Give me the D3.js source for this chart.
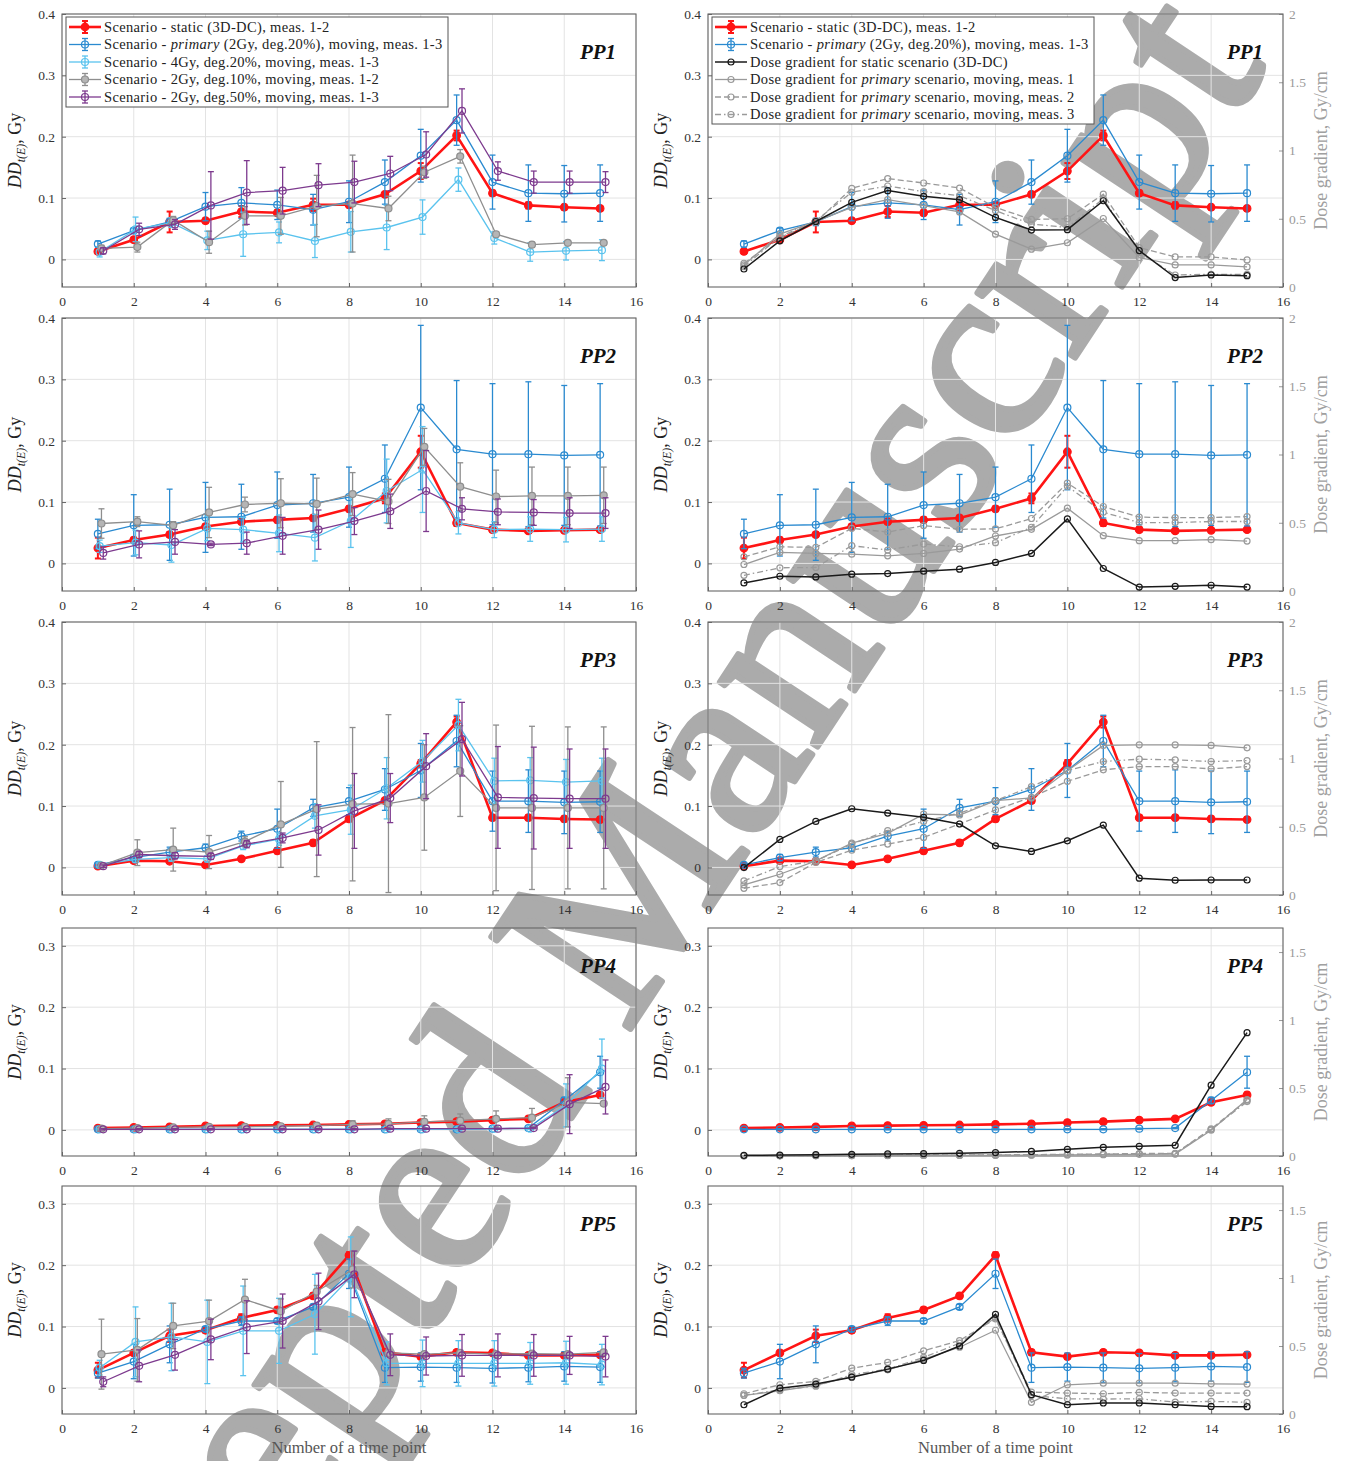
<!DOCTYPE html>
<html><head><meta charset="utf-8">
<script src="https://cdn.jsdelivr.net/npm/d3@7"></script>
<style>body{margin:0;background:#fff} svg text{font-family:"Liberation Serif","DejaVu Serif",serif}</style>
</head><body><svg id="chart" width="1346" height="1461"></svg>
<script>
// ---------------- DATA ----------------
const timePoints = [1,2,3,4,5,6,7,8,9,10,11,12,13,14,15];
const xTicks = [0,2,4,6,8,10,12,14,16];
const yTicksTall = [0,0.1,0.2,0.3,0.4];
const yTicksShort = [0,0.1,0.2,0.3];
const gradTicksTall = [0,0.5,1,1.5,2];
const gradTicksShort = [0,0.5,1,1.5];
const panelNames = ["PP1","PP2","PP3","PP4","PP5"];

const legendLeft = [
  ["Scenario - static (3D-DC), meas. 1-2"],
  ["Scenario - ","primary"," (2Gy, deg.20%), moving, meas. 1-3"],
  ["Scenario - 4Gy, deg.20%, moving, meas. 1-3"],
  ["Scenario - 2Gy, deg.10%, moving, meas. 1-2"],
  ["Scenario - 2Gy, deg.50%, moving, meas. 1-3"]
];
const legendRight = [
  ["Scenario - static (3D-DC), meas. 1-2"],
  ["Scenario - ","primary"," (2Gy, deg.20%), moving, meas. 1-3"],
  ["Dose gradient for static scenario (3D-DC)"],
  ["Dose gradient for ","primary"," scenario, moving, meas. 1"],
  ["Dose gradient for ","primary"," scenario, moving, meas. 2"],
  ["Dose gradient for ","primary"," scenario, moving, meas. 3"]
];

// PP1
const PP1_static      = [0.013,0.032,0.061,0.063,0.078,0.076,0.089,0.089,0.106,0.144,0.202,0.108,0.088,0.085,0.083];
const PP1_static_err  = [0.004,0.004,0.017,0.004,0.009,0.004,0.010,0.004,0.004,0.013,0.008,0.004,0.005,0.004,0.004];
const PP1_primary     = [0.025,0.047,0.061,0.086,0.092,0.089,0.081,0.094,0.126,0.169,0.227,0.126,0.108,0.107,0.108];
const PP1_primary_err = [0.005,0.004,0.006,0.023,0.025,0.024,0.025,0.034,0.036,0.043,0.041,0.044,0.046,0.046,0.046];
const PP1_4Gy         = [0.012,0.049,0.060,0.031,0.041,0.044,0.030,0.045,0.052,0.069,0.130,0.035,0.012,0.014,0.015];
const PP1_4Gy_err     = [0.008,0.020,0.008,0.015,0.036,0.017,0.027,0.033,0.036,0.028,0.019,0.010,0.015,0.015,0.017];
const PP1_deg10       = [0.018,0.020,0.064,0.028,0.071,0.071,0.087,0.091,0.083,0.142,0.168,0.041,0.024,0.027,0.027];
const PP1_deg10_err   = [0.005,0.008,0.006,0.018,0.015,0.030,0.050,0.079,0.020,0.010,0.011,0.004,0.004,0.003,0.003];
const PP1_deg50       = [0.014,0.049,0.057,0.088,0.109,0.112,0.121,0.126,0.140,0.171,0.242,0.144,0.126,0.126,0.126];
const PP1_deg50_err   = [0.005,0.010,0.008,0.055,0.052,0.038,0.035,0.034,0.028,0.037,0.036,0.015,0.018,0.018,0.017];
const PP1_grad_static = [0.132,0.338,0.480,0.620,0.706,0.664,0.640,0.510,0.417,0.420,0.632,0.267,0.069,0.088,0.083];
const PP1_grad_m1     = [0.162,0.387,0.480,0.583,0.640,0.596,0.550,0.387,0.277,0.324,0.502,0.216,0.162,0.162,0.147];
const PP1_grad_m2     = [0.174,0.363,0.475,0.723,0.794,0.762,0.725,0.583,0.495,0.500,0.680,0.289,0.220,0.220,0.198];
const PP1_grad_m3     = [0.150,0.368,0.485,0.694,0.740,0.699,0.669,0.559,0.461,0.436,0.647,0.252,0.088,0.093,0.093];

// PP2
const PP2_static      = [0.025,0.038,0.047,0.060,0.068,0.071,0.074,0.089,0.106,0.182,0.066,0.055,0.053,0.054,0.055];
const PP2_static_err  = [0.017,0.004,0.004,0.004,0.004,0.004,0.004,0.004,0.008,0.026,0.005,0.004,0.003,0.003,0.003];
const PP2_primary     = [0.048,0.062,0.063,0.075,0.076,0.095,0.098,0.108,0.138,0.254,0.186,0.178,0.178,0.176,0.177];
const PP2_primary_err = [0.024,0.050,0.058,0.057,0.053,0.054,0.047,0.049,0.055,0.134,0.112,0.115,0.118,0.114,0.116];
const PP2_4Gy         = [0.028,0.034,0.030,0.057,0.055,0.049,0.042,0.069,0.118,0.153,0.066,0.055,0.056,0.055,0.056];
const PP2_4Gy_err     = [0.010,0.020,0.028,0.020,0.020,0.030,0.038,0.043,0.052,0.070,0.018,0.013,0.020,0.020,0.020];
const PP2_deg10       = [0.065,0.068,0.062,0.083,0.096,0.098,0.097,0.113,0.101,0.190,0.125,0.109,0.110,0.110,0.111];
const PP2_deg10_err   = [0.024,0.008,0.006,0.041,0.012,0.040,0.042,0.035,0.036,0.030,0.039,0.043,0.047,0.047,0.046];
const PP2_deg50       = [0.017,0.031,0.035,0.031,0.033,0.045,0.055,0.069,0.085,0.118,0.089,0.084,0.083,0.082,0.082];
const PP2_deg50_err   = [0.010,0.022,0.020,0.002,0.018,0.030,0.032,0.022,0.028,0.066,0.018,0.021,0.021,0.025,0.025];
const PP2_grad_static = [0.059,0.108,0.103,0.123,0.128,0.145,0.160,0.209,0.275,0.528,0.165,0.029,0.034,0.042,0.029];
const PP2_grad_m1     = [0.194,0.283,0.275,0.270,0.258,0.275,0.307,0.403,0.452,0.607,0.405,0.369,0.369,0.376,0.366];
const PP2_grad_m2     = [0.250,0.324,0.319,0.459,0.432,0.479,0.452,0.455,0.531,0.791,0.619,0.541,0.538,0.538,0.545];
const PP2_grad_m3     = [0.115,0.170,0.172,0.332,0.300,0.344,0.324,0.354,0.467,0.767,0.577,0.501,0.501,0.509,0.509];

// PP3
const PP3_static      = [0.002,0.011,0.010,0.004,0.014,0.027,0.040,0.079,0.109,0.169,0.237,0.081,0.081,0.079,0.078];
const PP3_static_err  = [0.002,0.003,0.003,0.003,0.003,0.004,0.004,0.004,0.004,0.006,0.009,0.004,0.004,0.004,0.004];
const PP3_primary     = [0.004,0.016,0.025,0.032,0.051,0.063,0.097,0.108,0.127,0.158,0.206,0.108,0.108,0.106,0.107];
const PP3_primary_err = [0.003,0.005,0.008,0.006,0.008,0.032,0.014,0.022,0.034,0.044,0.042,0.049,0.051,0.051,0.050];
const PP3_4Gy         = [0.004,0.013,0.016,0.014,0.035,0.046,0.084,0.094,0.129,0.173,0.232,0.141,0.142,0.139,0.141];
const PP3_4Gy_err     = [0.003,0.005,0.006,0.005,0.006,0.010,0.020,0.040,0.050,0.034,0.042,0.037,0.037,0.037,0.037];
const PP3_deg10       = [0.003,0.024,0.029,0.025,0.042,0.070,0.095,0.103,0.104,0.114,0.157,0.097,0.097,0.097,0.097];
const PP3_deg10_err   = [0.003,0.021,0.035,0.027,0.008,0.070,0.110,0.125,0.145,0.086,0.074,0.135,0.133,0.132,0.132];
const PP3_deg50       = [0.002,0.021,0.019,0.018,0.038,0.048,0.061,0.092,0.113,0.165,0.209,0.114,0.113,0.112,0.112];
const PP3_deg50_err   = [0.002,0.005,0.005,0.005,0.006,0.008,0.041,0.061,0.040,0.053,0.060,0.083,0.083,0.081,0.081];
const PP3_grad_static = [0.201,0.407,0.539,0.632,0.600,0.569,0.520,0.360,0.319,0.397,0.512,0.123,0.108,0.110,0.110];
const PP3_grad_m1     = [0.074,0.152,0.250,0.380,0.451,0.593,0.586,0.691,0.711,0.910,1.096,1.100,1.100,1.096,1.078];
const PP3_grad_m2     = [0.049,0.091,0.238,0.328,0.373,0.422,0.520,0.623,0.716,0.833,0.917,0.941,0.941,0.924,0.941];
const PP3_grad_m3     = [0.103,0.208,0.250,0.373,0.471,0.539,0.600,0.691,0.794,0.912,0.978,0.995,0.990,0.978,0.985];

// PP4
const PP4_static      = [0.003,0.004,0.005,0.0065,0.007,0.0075,0.008,0.009,0.010,0.012,0.0135,0.016,0.018,0.045,0.057];
const PP4_static_err  = [0.002,0.002,0.002,0.002,0.002,0.002,0.002,0.002,0.002,0.003,0.003,0.003,0.003,0.004,0.004];
const PP4_primary     = [0.001,0.001,0.001,0.001,0.001,0.001,0.001,0.001,0.001,0.001,0.001,0.002,0.003,0.048,0.094];
const PP4_primary_err = [0.001,0.001,0.001,0.001,0.001,0.001,0.001,0.001,0.001,0.001,0.001,0.001,0.001,0.005,0.026];
const PP4_4Gy         = [0.001,0.001,0.001,0.001,0.001,0.001,0.001,0.001,0.001,0.001,0.001,0.002,0.002,0.040,0.100];
const PP4_4Gy_err     = [0.001,0.001,0.001,0.001,0.001,0.001,0.001,0.001,0.001,0.001,0.001,0.001,0.001,0.035,0.048];
const PP4_deg10       = [0.002,0.003,0.004,0.005,0.005,0.006,0.007,0.009,0.010,0.013,0.015,0.018,0.020,0.045,0.043];
const PP4_deg10_err   = [0.001,0.001,0.001,0.002,0.002,0.003,0.004,0.006,0.008,0.010,0.011,0.013,0.015,0.040,0.003];
const PP4_deg50       = [0.001,0.001,0.001,0.001,0.001,0.001,0.001,0.001,0.002,0.002,0.002,0.002,0.003,0.042,0.070];
const PP4_deg50_err   = [0.001,0.001,0.001,0.001,0.001,0.001,0.001,0.001,0.001,0.001,0.001,0.001,0.001,0.048,0.044];
const PP4_grad_static = [0.005,0.007,0.010,0.012,0.015,0.017,0.020,0.025,0.034,0.049,0.064,0.071,0.079,0.521,0.907];
const PP4_grad_m1     = [0.000,0.001,0.002,0.003,0.003,0.004,0.004,0.005,0.006,0.008,0.010,0.012,0.014,0.190,0.415];
const PP4_grad_m2     = [0.001,0.002,0.003,0.004,0.005,0.006,0.007,0.008,0.010,0.012,0.015,0.018,0.020,0.200,0.410];
const PP4_grad_m3     = [0.001,0.001,0.002,0.003,0.004,0.005,0.005,0.006,0.008,0.010,0.013,0.016,0.018,0.195,0.400];

// PP5
const PP5_static      = [0.029,0.057,0.085,0.094,0.114,0.127,0.150,0.216,0.058,0.051,0.058,0.057,0.053,0.053,0.054];
const PP5_static_err  = [0.012,0.004,0.010,0.004,0.006,0.004,0.004,0.005,0.004,0.004,0.003,0.003,0.003,0.003,0.003];
const PP5_primary     = [0.024,0.043,0.071,0.096,0.109,0.109,0.132,0.186,0.033,0.034,0.033,0.032,0.033,0.035,0.034];
const PP5_primary_err = [0.008,0.028,0.030,0.004,0.007,0.004,0.004,0.024,0.024,0.023,0.024,0.024,0.023,0.024,0.025];
const PP5_4Gy         = [0.033,0.075,0.083,0.075,0.093,0.093,0.120,0.181,0.040,0.040,0.040,0.040,0.040,0.041,0.038];
const PP5_4Gy_err     = [0.012,0.057,0.055,0.068,0.073,0.053,0.065,0.065,0.035,0.038,0.037,0.037,0.034,0.035,0.033];
const PP5_deg10       = [0.055,0.062,0.101,0.109,0.144,0.125,0.157,0.193,0.057,0.055,0.057,0.055,0.056,0.055,0.058];
const PP5_deg10_err   = [0.057,0.051,0.037,0.034,0.033,0.020,0.010,0.030,0.005,0.004,0.004,0.004,0.004,0.004,0.004];
const PP5_deg50       = [0.010,0.036,0.054,0.079,0.099,0.109,0.141,0.185,0.054,0.052,0.053,0.053,0.053,0.053,0.051];
const PP5_deg50_err   = [0.008,0.026,0.025,0.033,0.043,0.044,0.046,0.038,0.034,0.031,0.034,0.035,0.034,0.031,0.033];
const PP5_grad_static = [0.068,0.190,0.220,0.271,0.330,0.394,0.500,0.733,0.142,0.068,0.081,0.081,0.068,0.056,0.054];
const PP5_grad_m1     = [0.137,0.171,0.210,0.276,0.325,0.403,0.491,0.616,0.086,0.215,0.227,0.227,0.227,0.222,0.220];
const PP5_grad_m2     = [0.149,0.215,0.240,0.337,0.379,0.465,0.540,0.700,0.161,0.154,0.149,0.159,0.154,0.154,0.154];
const PP5_grad_m3     = [0.137,0.178,0.205,0.289,0.330,0.416,0.521,0.709,0.137,0.112,0.110,0.112,0.088,0.093,0.086];

// ---------------- TABLE BUILT FROM ARRAYS ----------------
const panelData = [
  {name:"PP1", s:[PP1_static,PP1_static_err,PP1_primary,PP1_primary_err,PP1_4Gy,PP1_4Gy_err,PP1_deg10,PP1_deg10_err,PP1_deg50,PP1_deg50_err], g:[PP1_grad_static,PP1_grad_m1,PP1_grad_m2,PP1_grad_m3]},
  {name:"PP2", s:[PP2_static,PP2_static_err,PP2_primary,PP2_primary_err,PP2_4Gy,PP2_4Gy_err,PP2_deg10,PP2_deg10_err,PP2_deg50,PP2_deg50_err], g:[PP2_grad_static,PP2_grad_m1,PP2_grad_m2,PP2_grad_m3]},
  {name:"PP3", s:[PP3_static,PP3_static_err,PP3_primary,PP3_primary_err,PP3_4Gy,PP3_4Gy_err,PP3_deg10,PP3_deg10_err,PP3_deg50,PP3_deg50_err], g:[PP3_grad_static,PP3_grad_m1,PP3_grad_m2,PP3_grad_m3]},
  {name:"PP4", s:[PP4_static,PP4_static_err,PP4_primary,PP4_primary_err,PP4_4Gy,PP4_4Gy_err,PP4_deg10,PP4_deg10_err,PP4_deg50,PP4_deg50_err], g:[PP4_grad_static,PP4_grad_m1,PP4_grad_m2,PP4_grad_m3]},
  {name:"PP5", s:[PP5_static,PP5_static_err,PP5_primary,PP5_primary_err,PP5_4Gy,PP5_4Gy_err,PP5_deg10,PP5_deg10_err,PP5_deg50,PP5_deg50_err], g:[PP5_grad_static,PP5_grad_m1,PP5_grad_m2,PP5_grad_m3]}
];

// ---------------- STYLE / LAYOUT ----------------
const C = {red:"#ff1414", blue:"#2a8ad0", lblue:"#5ac3ee", gray:"#8e8e8e", purple:"#7d3a8e", black:"#1a1a1a", ggray:"#9a9a9a"};
const scen = [
  {color:C.red,    lw:2.6, r:3.8, fill:C.red,  dx:0,    ew:2.0},
  {color:C.blue,   lw:1.3, r:3.5, fill:"none", dx:0,    ew:1.3},
  {color:C.lblue,  lw:1.3, r:3.5, fill:"none", dx:0.05, ew:1.3},
  {color:C.gray,   lw:1.3, r:3.5, fill:"#b5b5b5", dx:0.10, ew:1.3},
  {color:C.purple, lw:1.3, r:3.5, fill:"none", dx:0.15, ew:1.3}
];
const gstyle = [
  {color:C.black, lw:1.5, dash:null},
  {color:C.ggray, lw:1.3, dash:null},
  {color:C.ggray, lw:1.3, dash:"6,3"},
  {color:C.ggray, lw:1.3, dash:"6,3,1.5,3"}
];
const cols = [{x0:62,x1:636},{x0:708,x1:1283}];
const rows = [
  {top:14,  bottom:287,  ydom:[-0.045,0.4],   gdom:[0,2],     yt:yTicksTall,  gt:gradTicksTall},
  {top:318, bottom:591,  ydom:[-0.045,0.4],   gdom:[0,2],     yt:yTicksTall,  gt:gradTicksTall},
  {top:622, bottom:895,  ydom:[-0.045,0.4],   gdom:[0,2],     yt:yTicksTall,  gt:gradTicksTall},
  {top:928, bottom:1156, ydom:[-0.0425,0.329],gdom:[0,1.677], yt:yTicksShort, gt:gradTicksShort},
  {top:1186,bottom:1414, ydom:[-0.0425,0.329],gdom:[0,1.677], yt:yTicksShort, gt:gradTicksShort}
];

const svg = d3.select("#chart");

// watermark (behind the plots)
svg.append("text")
  .attr("transform","translate(60,1891) rotate(-56.5)")
  .attr("text-anchor","start")
  .attr("font-size",255)
  .attr("fill","#ababab")
  .attr("stroke","#ababab").attr("stroke-width",6).attr("stroke-linejoin","round")
  .style("font-family","'Liberation Serif',serif")
  .text("Accepted Manuscript");

const fmt = v => (v===0?"0":String(v));

function drawErr(g, x, y, xs, vals, errs, st) {
  const cap = 3;
  const eg = g.append("g").attr("stroke", st.color).attr("stroke-width", st.ew).attr("fill","none");
  vals.forEach((v,i)=>{
    const X = x(xs[i]+st.dx), y1 = y(v-errs[i]), y2 = y(v+errs[i]);
    eg.append("line").attr("x1",X).attr("x2",X).attr("y1",y1).attr("y2",y2);
    eg.append("line").attr("x1",X-cap).attr("x2",X+cap).attr("y1",y1).attr("y2",y1);
    eg.append("line").attr("x1",X-cap).attr("x2",X+cap).attr("y1",y2).attr("y2",y2);
  });
}
function drawLine(g, x, y, xs, vals, st, dash) {
  const line = d3.line().x((d,i)=>x(xs[i]+(st.dx||0))).y(d=>y(d));
  g.append("path").datum(vals).attr("d",line).attr("fill","none")
    .attr("stroke",st.color).attr("stroke-width",st.lw).attr("stroke-dasharray",dash||null);
  g.append("g").selectAll("circle").data(vals).join("circle")
    .attr("cx",(d,i)=>x(xs[i]+(st.dx||0))).attr("cy",d=>y(d)).attr("r",st.r||3)
    .attr("fill",st.fill||"none").attr("stroke",st.color).attr("stroke-width",1.2);
}

rows.forEach((R, ri)=>{
  const P = panelData[ri];
  cols.forEach((Cc, ci)=>{
    const g = svg.append("g");
    const x = d3.scaleLinear().domain([0,16]).range([Cc.x0,Cc.x1]);
    const y = d3.scaleLinear().domain(R.ydom).range([R.bottom,R.top]);
    const y2 = d3.scaleLinear().domain(R.gdom).range([R.bottom,R.top]);
    // grid
    const grid = g.append("g").attr("stroke","#e3e3e3").attr("stroke-width",1);
    xTicks.forEach(t=>grid.append("line").attr("x1",x(t)).attr("x2",x(t)).attr("y1",R.top).attr("y2",R.bottom));
    R.yt.forEach(t=>grid.append("line").attr("x1",Cc.x0).attr("x2",Cc.x1).attr("y1",y(t)).attr("y2",y(t)));
    // axes via d3
    const ax = g.append("g").attr("transform",`translate(0,${R.bottom})`)
      .call(d3.axisBottom(x).tickValues(xTicks).tickFormat(fmt).tickSizeInner(-4).tickSizeOuter(0));
    const ay = g.append("g").attr("transform",`translate(${Cc.x0},0)`)
      .call(d3.axisLeft(y).tickValues(R.yt).tickFormat(fmt).tickSizeInner(-4).tickSizeOuter(0));
    [ax,ay].forEach(a=>{
      a.select(".domain").remove();
      a.selectAll("line").attr("stroke","#666");
      a.selectAll("text").attr("fill","#333").attr("font-size",13.5).style("font-family","'Liberation Serif',serif");
    });
    ax.selectAll("text").attr("dy","1.15em");
    ay.selectAll("text").attr("x",-7);
    if (ci===1) {
      const ar = g.append("g").attr("transform",`translate(${Cc.x1},0)`)
        .call(d3.axisRight(y2).tickValues(R.gt).tickFormat(fmt).tickSizeInner(-4).tickSizeOuter(0));
      ar.select(".domain").remove();
      ar.selectAll("line").attr("stroke","#999");
      ar.selectAll("text").attr("fill","#9a9a9a").attr("font-size",13.5).attr("x",6).style("font-family","'Liberation Serif',serif");
    }
    // frame
    g.append("rect").attr("x",Cc.x0).attr("y",R.top).attr("width",Cc.x1-Cc.x0).attr("height",R.bottom-R.top)
      .attr("fill","none").attr("stroke","#666").attr("stroke-width",1.1);

    // series
    const plot = g.append("g");
    const idx = ci===0 ? [0,1,2,3,4] : [0,1];
    idx.forEach(k=>{
      const st = Object.assign({}, scen[k], ci===1 ? {dx:0} : {});
      drawErr(plot, x, y, timePoints, P.s[2*k], P.s[2*k+1], st);
      drawLine(plot, x, y, timePoints, P.s[2*k], st);
    });
    if (ci===1) {
      [1,2,3,0].forEach(k=>{
        const st = gstyle[k];
        drawLine(plot, x, y2, timePoints, P.g[k], {color:st.color, lw:st.lw, r:3, fill:"none", dx:0}, st.dash);
      });
    }
    // panel label
    g.append("text").attr("x",Cc.x1-38).attr("y",R.top+45).attr("text-anchor","middle")
      .attr("font-size",21).attr("font-style","italic").attr("font-weight","bold").attr("fill","#111").text(P.name);
    // y label
    const ym = (R.top+R.bottom)/2;
    const yl = g.append("text").attr("transform",`translate(${Cc.x0-41},${ym}) rotate(-90)`)
      .attr("text-anchor","middle").attr("font-size",18).attr("fill","#222");
    yl.append("tspan").attr("font-style","italic").text("DD");
    yl.append("tspan").attr("font-style","italic").attr("font-size",12).attr("dy",4).text("t(E)");
    yl.append("tspan").attr("dy",-4).text(", Gy");
    if (ci===1) {
      g.append("text").attr("transform",`translate(${Cc.x1+44},${ym}) rotate(-90)`)
        .attr("text-anchor","middle").attr("font-size",18).attr("fill","#a0a0a0").text("Dose gradient, Gy/cm");
    }
    if (ri===4) {
      g.append("text").attr("x",(Cc.x0+Cc.x1)/2).attr("y",R.bottom+39).attr("text-anchor","middle")
        .attr("font-size",16.5).attr("fill","#555").text("Number of a time point");
    }
    // legends
    if (ri===0) {
      const entries = ci===0 ? legendLeft : legendRight;
      const lx = Cc.x0+4, ly = R.top+3, lw = 382, lh = ci===0 ? 90 : 107;
      const lg = g.append("g");
      lg.append("rect").attr("x",lx).attr("y",ly).attr("width",lw).attr("height",lh)
        .attr("fill","#fff").attr("stroke","#555").attr("stroke-width",1);
      entries.forEach((parts,i)=>{
        const yy = ly+10+i*17.5;
        let st, dash=null, err=false;
        if (ci===0) { st = scen[i]; err=true; }
        else if (i<2) { st = scen[i]; err=true; }
        else { const s = gstyle[i-2]; st = {color:s.color, lw:s.lw, r:3, fill:"none"}; dash=s.dash; }
        lg.append("line").attr("x1",lx+3).attr("x2",lx+35).attr("y1",yy).attr("y2",yy)
          .attr("stroke",st.color).attr("stroke-width",st.lw).attr("stroke-dasharray",dash);
        if (err) {
          lg.append("line").attr("x1",lx+19).attr("x2",lx+19).attr("y1",yy-6).attr("y2",yy+6).attr("stroke",st.color).attr("stroke-width",st.ew);
          [-6,6].forEach(o=>lg.append("line").attr("x1",lx+16).attr("x2",lx+22).attr("y1",yy+o).attr("y2",yy+o).attr("stroke",st.color).attr("stroke-width",st.ew));
        }
        lg.append("circle").attr("cx",lx+19).attr("cy",yy).attr("r",st.r||3).attr("fill",st.fill||"none").attr("stroke",st.color).attr("stroke-width",1.2);
        const t = lg.append("text").attr("x",lx+38).attr("y",yy+4.5).attr("font-size",14.5)
          .attr("letter-spacing","0.35px").attr("fill","#222");
        parts.forEach(p=>{
          const ts = t.append("tspan").text(p);
          if (p==="primary") ts.attr("font-style","italic");
        });
      });
    }
  });
});
</script></body></html>
